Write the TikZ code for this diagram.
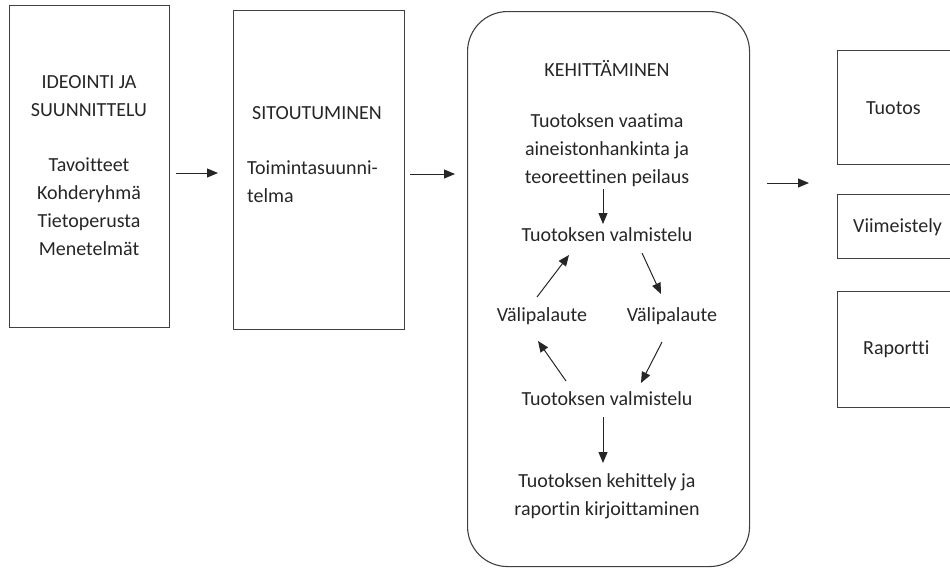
\documentclass[tikz,border=0pt]{standalone}
\usepackage{fontspec}
\setmainfont{Carlito}[Ligatures={NoCommon}]
\usetikzlibrary{arrows.meta}
\begin{document}
\begin{tikzpicture}[x=1pt,y=-1pt,
  box/.style={draw=black!75,line width=1.1pt,inner sep=0pt,anchor=north west},
  txt/.style={font=\fontsize{20}{28}\selectfont,text=black!85,inner sep=0pt,align=center},
  txtl/.style={font=\fontsize{20}{28}\selectfont,text=black!85,inner sep=0pt,align=left,anchor=west},
  arr/.style={-{Triangle[length=11pt,width=9pt]},line width=1pt,black!85}]
\useasboundingbox (0,0) rectangle (950,568);
\clip (0,0) rectangle (950,568);
% boxes
\node[box,minimum width=160pt,minimum height=322pt] (b1) at (9,5) {};
\node[box,minimum width=171pt,minimum height=319pt] (b2) at (233,10) {};
\node[box,rounded corners=40pt,minimum width=282pt,minimum height=555pt] (b3) at (467,11) {};
\node[box,minimum width=130pt,minimum height=114pt] (r1) at (837,50) {};
\node[box,minimum width=130pt,minimum height=64pt] (r2) at (837,194) {};
\node[box,minimum width=130pt,minimum height=116pt] (r3) at (837,291) {};
% texts box 1
\node[txt] (t1a) at (89,96) {IDEOINTI JA\\SUUNNITTELU};
\node[txt] (t1b) at (89,207) {Tavoitteet\\Kohderyhmä\\Tietoperusta\\Menetelmät};
% box 2
\node[txt] (t2a) at (317,113) {SITOUTUMINEN};
\node[txtl] (t2b) at (247,182) {Toimintasuunni-\\telma};
% box 3
\node[txt] (k0) at (607,68) {KEHITTÄMINEN};
\node[txt] (k1) at (607,150) {Tuotoksen vaatima\\aineistonhankinta ja\\teoreettinen peilaus};
\node[txt] (k2) at (607,235) {Tuotoksen valmistelu};
\node[txt] (k3) at (542,316) {Välipalaute};
\node[txt] (k4) at (672,316) {Välipalaute};
\node[txt] (k5) at (607,399) {Tuotoksen valmistelu};
\node[txt] (k6) at (607,496) {Tuotoksen kehittely ja\\raportin kirjoittaminen};
% right texts
\node[txtl] (rt1) at (866,108) {Tuotos};
\node[txtl] (rt2) at (853,227) {Viimeistely};
\node[txtl] (rt3) at (863,349) {Raportti};
% arrow coordinates
\coordinate (a1s) at (176,173); \coordinate (a1e) at (218,173);
\coordinate (a2s) at (410,174); \coordinate (a2e) at (455,174);
\coordinate (a3s) at (767,183); \coordinate (a3e) at (809,183);
\coordinate (i1s) at (603,189); \coordinate (i1e) at (603,224);
\coordinate (i2s) at (537,297); \coordinate (i2e) at (569,255);
\coordinate (i3s) at (642,253); \coordinate (i3e) at (661,294);
\coordinate (i4s) at (566,381); \coordinate (i4e) at (538,341);
\coordinate (i5s) at (662,342); \coordinate (i5e) at (641,383);
\coordinate (i6s) at (603,417); \coordinate (i6e) at (603,463);
\draw[arr] (a1s) -- (a1e);
\draw[arr] (a2s) -- (a2e);
\draw[arr] (a3s) -- (a3e);
\draw[arr] (i1s) -- (i1e);
\draw[arr] (i2s) -- (i2e);
\draw[arr] (i3s) -- (i3e);
\draw[arr] (i4s) -- (i4e);
\draw[arr] (i5s) -- (i5e);
\draw[arr] (i6s) -- (i6e);
\end{tikzpicture}
\end{document}
